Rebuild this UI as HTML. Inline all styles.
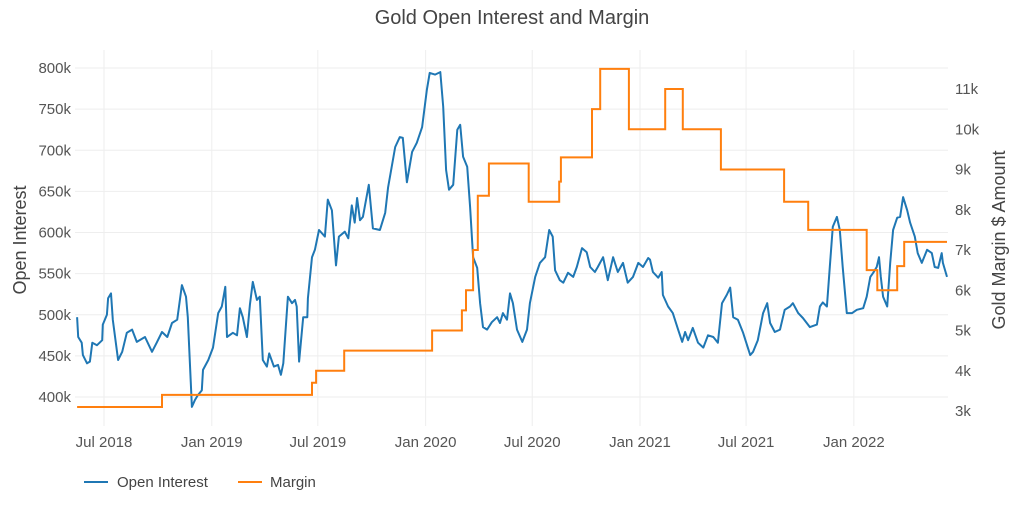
<!DOCTYPE html>
<html><head><meta charset="utf-8"><style>
body{margin:0;background:#fff;font-family:"Liberation Sans",sans-serif}
svg{display:block}
</style></head><body>
<svg id="chart" width="1024" height="512" xmlns="http://www.w3.org/2000/svg">
<text x="512" y="24" text-anchor="middle" font-size="20" fill="#444">Gold Open Interest and Margin</text>
<g id="grid"></g><g id="axes"></g><g id="series"></g>
<text transform="translate(26,240) rotate(-90)" text-anchor="middle" font-size="18" fill="#444">Open Interest</text>
<text transform="translate(1005,240) rotate(-90)" text-anchor="middle" font-size="18" fill="#444">Gold Margin $ Amount</text>
<g>
<g><line x1="84" y1="482" x2="108" y2="482" stroke="#1f77b4" stroke-width="2"/><text x="117" y="487" font-size="15" fill="#444">Open Interest</text></g>
<g><line x1="238" y1="482" x2="262" y2="482" stroke="#ff7f0e" stroke-width="2"/><text x="270" y="487" font-size="15" fill="#444">Margin</text></g>
</g>
</svg>
<script>
// days since 2018-07-01
const oiDays=[-46,-44,-38,-36,-29,-24,-20,-12,-3,-2,5,7,12,15,24,31,39,48,56,70,82,90,99,108,116,125,133,140,143,150,155,160,167,169,178,186,195,201,207,210,220,227,232,237,244,249,254,261,266,271,278,282,290,297,302,306,314,321,326,329,333,340,347,348,355,360,367,377,382,389,396,401,411,417,423,428,432,437,442,452,459,471,480,485,497,505,510,517,526,534,543,551,556,565,574,579,584,589,596,603,608,613,620,625,630,637,642,647,654,662,671,676,681,688,693,698,705,714,722,727,736,744,753,760,766,770,778,784,792,801,807,816,824,830,838,843,852,860,869,877,886,894,903,912,920,929,932,937,946,952,954,963,971,980,987,992,997,1005,1014,1023,1031,1040,1048,1055,1063,1069,1074,1082,1091,1103,1108,1116,1125,1132,1137,1145,1154,1162,1171,1176,1185,1193,1205,1217,1222,1227,1234,1239,1244,1251,1256,1261,1268,1277,1285,1296,1302,1308,1313,1319,1323,1326,1330,1337,1342,1347,1354,1359,1364,1371,1376,1384,1389,1396,1405,1413,1418,1424,1430,1432,1439];
const oiValues=[497,473,466,451,441,443,466,463,469,488,500,520,526,494,445,455,478,482,467,473,455,466,479,473,490,494,536,522,497,388,396,402,408,433,445,460,502,510,534,473,478,475,508,497,473,512,540,518,522,445,437,453,437,439,427,441,522,514,518,510,443,497,497,520,570,579,603,595,640,627,560,595,601,593,633,612,642,615,619,658,605,603,624,655,704,716,715,661,698,709,728,773,794,792,795,753,676,652,658,725,731,692,680,631,570,557,514,485,482,491,497,490,502,494,526,514,482,467,482,514,546,563,570,603,595,554,542,539,551,546,558,581,576,558,552,558,570,542,570,552,563,539,546,563,558,569,567,552,545,552,524,510,502,482,467,479,469,484,466,460,475,473,466,514,524,533,497,494,478,451,455,469,502,514,490,479,482,506,510,514,502,496,485,488,510,515,510,558,607,619,603,558,502,502,506,508,522,546,551,558,570,546,522,510,563,603,618,619,643,627,612,595,575,563,579,575,558,557,575,563,546];
const marginDays=[-46,99,355,362,410,560,611,618,630,638,657,725,777,780,833,847,896,958,988,1053,1161,1202,1302,1320,1354,1366];
const marginValues=[3.1,3.4,3.7,4.0,4.5,5.0,5.5,6.0,7.0,8.35,9.15,8.2,8.7,9.3,10.5,11.5,10.0,11.0,10.0,9.0,8.2,7.5,6.5,6.0,6.6,7.2];
const marginEndDay=1439;
const xTickDays=[0,184,365,549,731,915,1096,1280];
const xTickLabels=["Jul 2018","Jan 2019","Jul 2019","Jan 2020","Jul 2020","Jan 2021","Jul 2021","Jan 2022"];
const leftTicks=[400,450,500,550,600,650,700,750,800];
const rightTicks=[3,4,5,6,7,8,9,10,11];

const NS="http://www.w3.org/2000/svg";
const xS=d=>104+d/1.707;
const yL=v=>68+(800-v)*0.8225;
const yR=m=>89+(11-m)*40.25;
function mk(tag,attrs,parent,txt){const e=document.createElementNS(NS,tag);for(const k in attrs)e.setAttribute(k,attrs[k]);if(txt!==undefined)e.textContent=txt;parent.appendChild(e);return e;}
const grid=document.getElementById('grid'),axes=document.getElementById('axes'),series=document.getElementById('series');
leftTicks.forEach((v,i)=>{
  const l=mk('line',{x1:75,x2:948,y1:yL(v),y2:yL(v),stroke:'#eee','stroke-width':1},grid);
  
  
  const t=mk('text',{x:71,y:yL(v)+5,'text-anchor':'end','font-size':15,fill:'#555'},axes,v+'k');
  
  
});
rightTicks.forEach(m=>{
  const t=mk('text',{x:955,y:yR(m)+5,'font-size':15,fill:'#555'},axes,m+'k');
  
  
});
xTickDays.forEach((d,i)=>{
  const l=mk('line',{x1:xS(d),x2:xS(d),y1:50,y2:426,stroke:'#eee','stroke-width':1},grid);
  
  
  const t=mk('text',{x:xS(d),y:447,'text-anchor':'middle','font-size':15,fill:'#555'},axes,xTickLabels[i]);
  
  
});
let pts=oiDays.map((d,i)=>xS(d).toFixed(1)+','+yL(oiValues[i]).toFixed(1)).join(' ');
const oi=mk('polyline',{points:pts,fill:'none',stroke:'#1f77b4','stroke-width':2,'stroke-linejoin':'round'},series);


let mp=[];
marginDays.forEach((d,i)=>{
  if(i>0)mp.push(xS(d).toFixed(1)+','+yR(marginValues[i-1]).toFixed(1));
  mp.push(xS(d).toFixed(1)+','+yR(marginValues[i]).toFixed(1));
});
mp.push(xS(marginEndDay).toFixed(1)+','+yR(marginValues[marginValues.length-1]).toFixed(1));
const mg=mk('polyline',{points:mp.join(' '),fill:'none',stroke:'#ff7f0e','stroke-width':2},series);


</script>
</body></html>
